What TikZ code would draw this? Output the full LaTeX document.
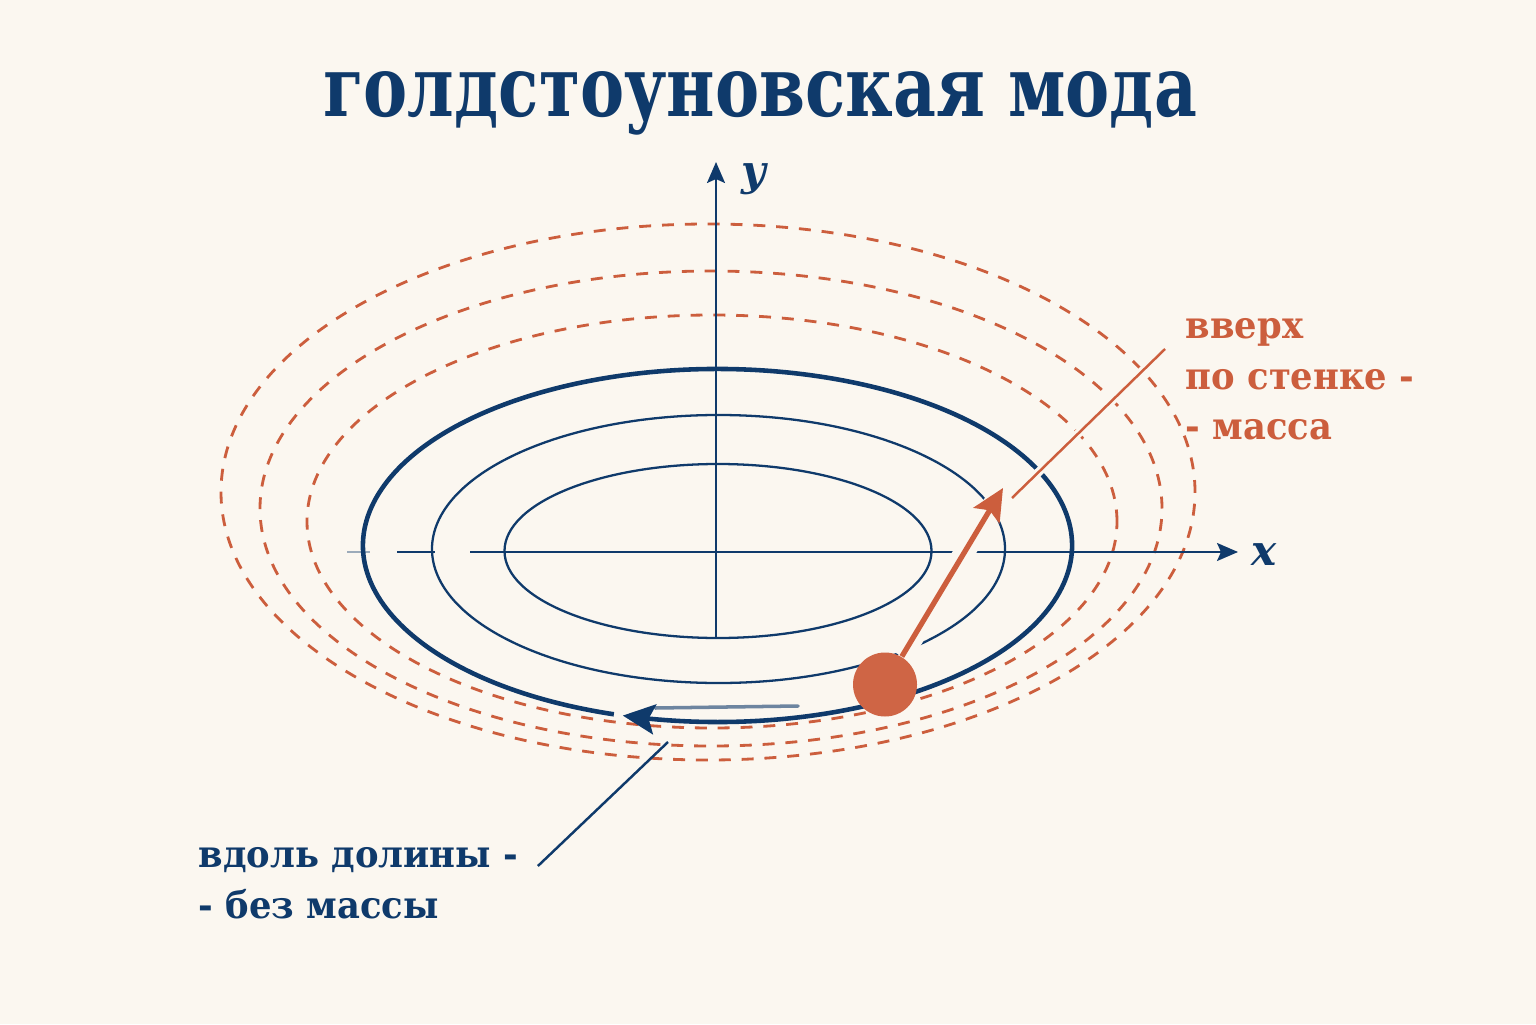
\documentclass[tikz,border=0pt]{standalone}
\usepackage{fontspec}
\setmainfont{DejaVu Serif}
\newfontfamily\titlefont[FakeStretch=0.785]{DejaVu Serif}
\newfontfamily\lblfont[FakeStretch=0.94]{DejaVu Serif}
\usetikzlibrary{arrows.meta,bending}
\definecolor{bgcream}{HTML}{FBF7F0}
\definecolor{navy}{HTML}{0F3A6B}
\definecolor{rust}{HTML}{CC5E3D}
\definecolor{ballfill}{HTML}{CF6545}
\tikzset{
  axis/.style={navy,line width=0.6pt},
  valley/.style={navy,line width=0.65pt},
  wall/.style={navy,line width=1.3pt},
  ridge/.style={rust,line width=0.8pt,dash pattern=on 3.4pt off 3.1pt},
  halo/.style={bgcream,line width=#1},
  push/.style={rust,line width=1.5pt},
  pointer/.style={line width=0.7pt},
  bighead/.style={-{Stealth[length=0.32cm,width=0.3cm,inset=0.06cm,#1]}},
  lbl/.style={font=\lblfont\bfseries\fontsize{10.7}{13}\selectfont,text=rust,anchor=base west,inner sep=0pt},
  vlbl/.style={font=\lblfont\bfseries\fontsize{10.7}{13}\selectfont,text=navy,anchor=base west,inner sep=0pt},
  ball/.style={circle,fill=ballfill,minimum size=0.64cm,inner sep=0pt}
}

\begin{document}
\begin{tikzpicture}
    \useasboundingbox (0,0) rectangle (15.36,10.24);
    \fill[bgcream] (0,0) rectangle (15.36,10.24);
    \node[font=\titlefont\bfseries\fontsize{24}{28}\selectfont,text=navy,anchor=base] (title) at (7.60,9.07) {голдстоуновская мода};

    % walls of the bowl
    \draw[ridge] (7.08,5.32) ellipse [x radius=4.87, y radius=2.68];
    \draw[ridge] (7.11,5.155) ellipse [x radius=4.51, y radius=2.375];
    \draw[ridge] (7.12,5.025) ellipse [x radius=4.05, y radius=2.065];

    % axes
    \coordinate (O) at (7.16,4.72);
    \coordinate (xa) at (3.47,4.72); \coordinate (xb) at (3.70,4.72);
    \coordinate (xc) at (3.97,4.72); \coordinate (xd) at (4.35,4.72);
    \coordinate (xs) at (4.70,4.72); \coordinate (xe) at (12.38,4.72);
    \coordinate (ys) at (7.16,3.86); \coordinate (ye) at (7.16,8.62);
    \draw[axis,opacity=0.4] (xa) -- (xb);
    \draw[axis] (xc) -- (xd);
    \draw[axis,-{Stealth[length=0.21cm,width=0.18cm,inset=0.04cm]}] (xs) -- (xe);
    \draw[axis,-{Stealth[length=0.21cm,width=0.18cm,inset=0.04cm]}] (ys) -- (ye);
    \node[text=navy,font=\bfseries\itshape\fontsize{12}{14}\selectfont] (xlbl) at (12.64,4.69) {x};
    \node[text=navy,font=\bfseries\itshape\fontsize{12}{14}\selectfont] (ylbl) at (7.54,8.45) {y};

    % level lines of the valley
    \coordinate (C1) at (7.18,4.73);
    \coordinate (C2) at (7.185,4.75);
    \coordinate (C3) at (7.175,4.785);
    \draw[valley] (C1) ellipse [x radius=2.135, y radius=0.87];
    \draw[valley] (C2) ellipse [x radius=2.865, y radius=1.34];
    \draw[wall,bighead=flex] ([shift={(253:3.545 and 1.765)}]C3)
        arc [start angle=253, end angle=-105.5, x radius=3.545, y radius=1.765];
    \draw[navy,line width=1pt,opacity=0.6,line cap=round] (6.55,3.16) -- (7.98,3.18);

    % labels
    \node[lbl] (up1) at (11.85,6.85) {вверх};
    \node[lbl] (up2) at ([yshift=-0.5cm]up1.base west) {по стенке -};
    \node[lbl] (up3) at ([yshift=-0.5cm]up2.base west) {- масса};
    \node[vlbl] (valley1) at (1.98,1.57) {вдоль долины -};
    \node[vlbl] (valley2) at ([yshift=-0.51cm]valley1.base west) {- без массы};

    % massive direction
    \node[ball] (ball) at (8.85,3.395) {};
    \coordinate (tip) at (10.03,5.36);
    \coordinate (pa) at ([shift={(-0.20,-0.10)}]up1.base west);
    \coordinate (pb) at (10.12,5.26);
    \draw[halo=6pt] (ball) -- (tip);
    \draw[halo=2.5pt] (pa) -- (pb);
    \draw[push,bighead=] (ball) -- (tip);
    \draw[rust,pointer] (pa) -- (pb);

    % massless direction
    \coordinate (va) at ([shift={(0.19,0.01)}]valley1.base east);
    \coordinate (vb) at (6.68,2.82);
    \draw[navy,pointer] (va) -- (vb);
\end{tikzpicture}
\end{document}
